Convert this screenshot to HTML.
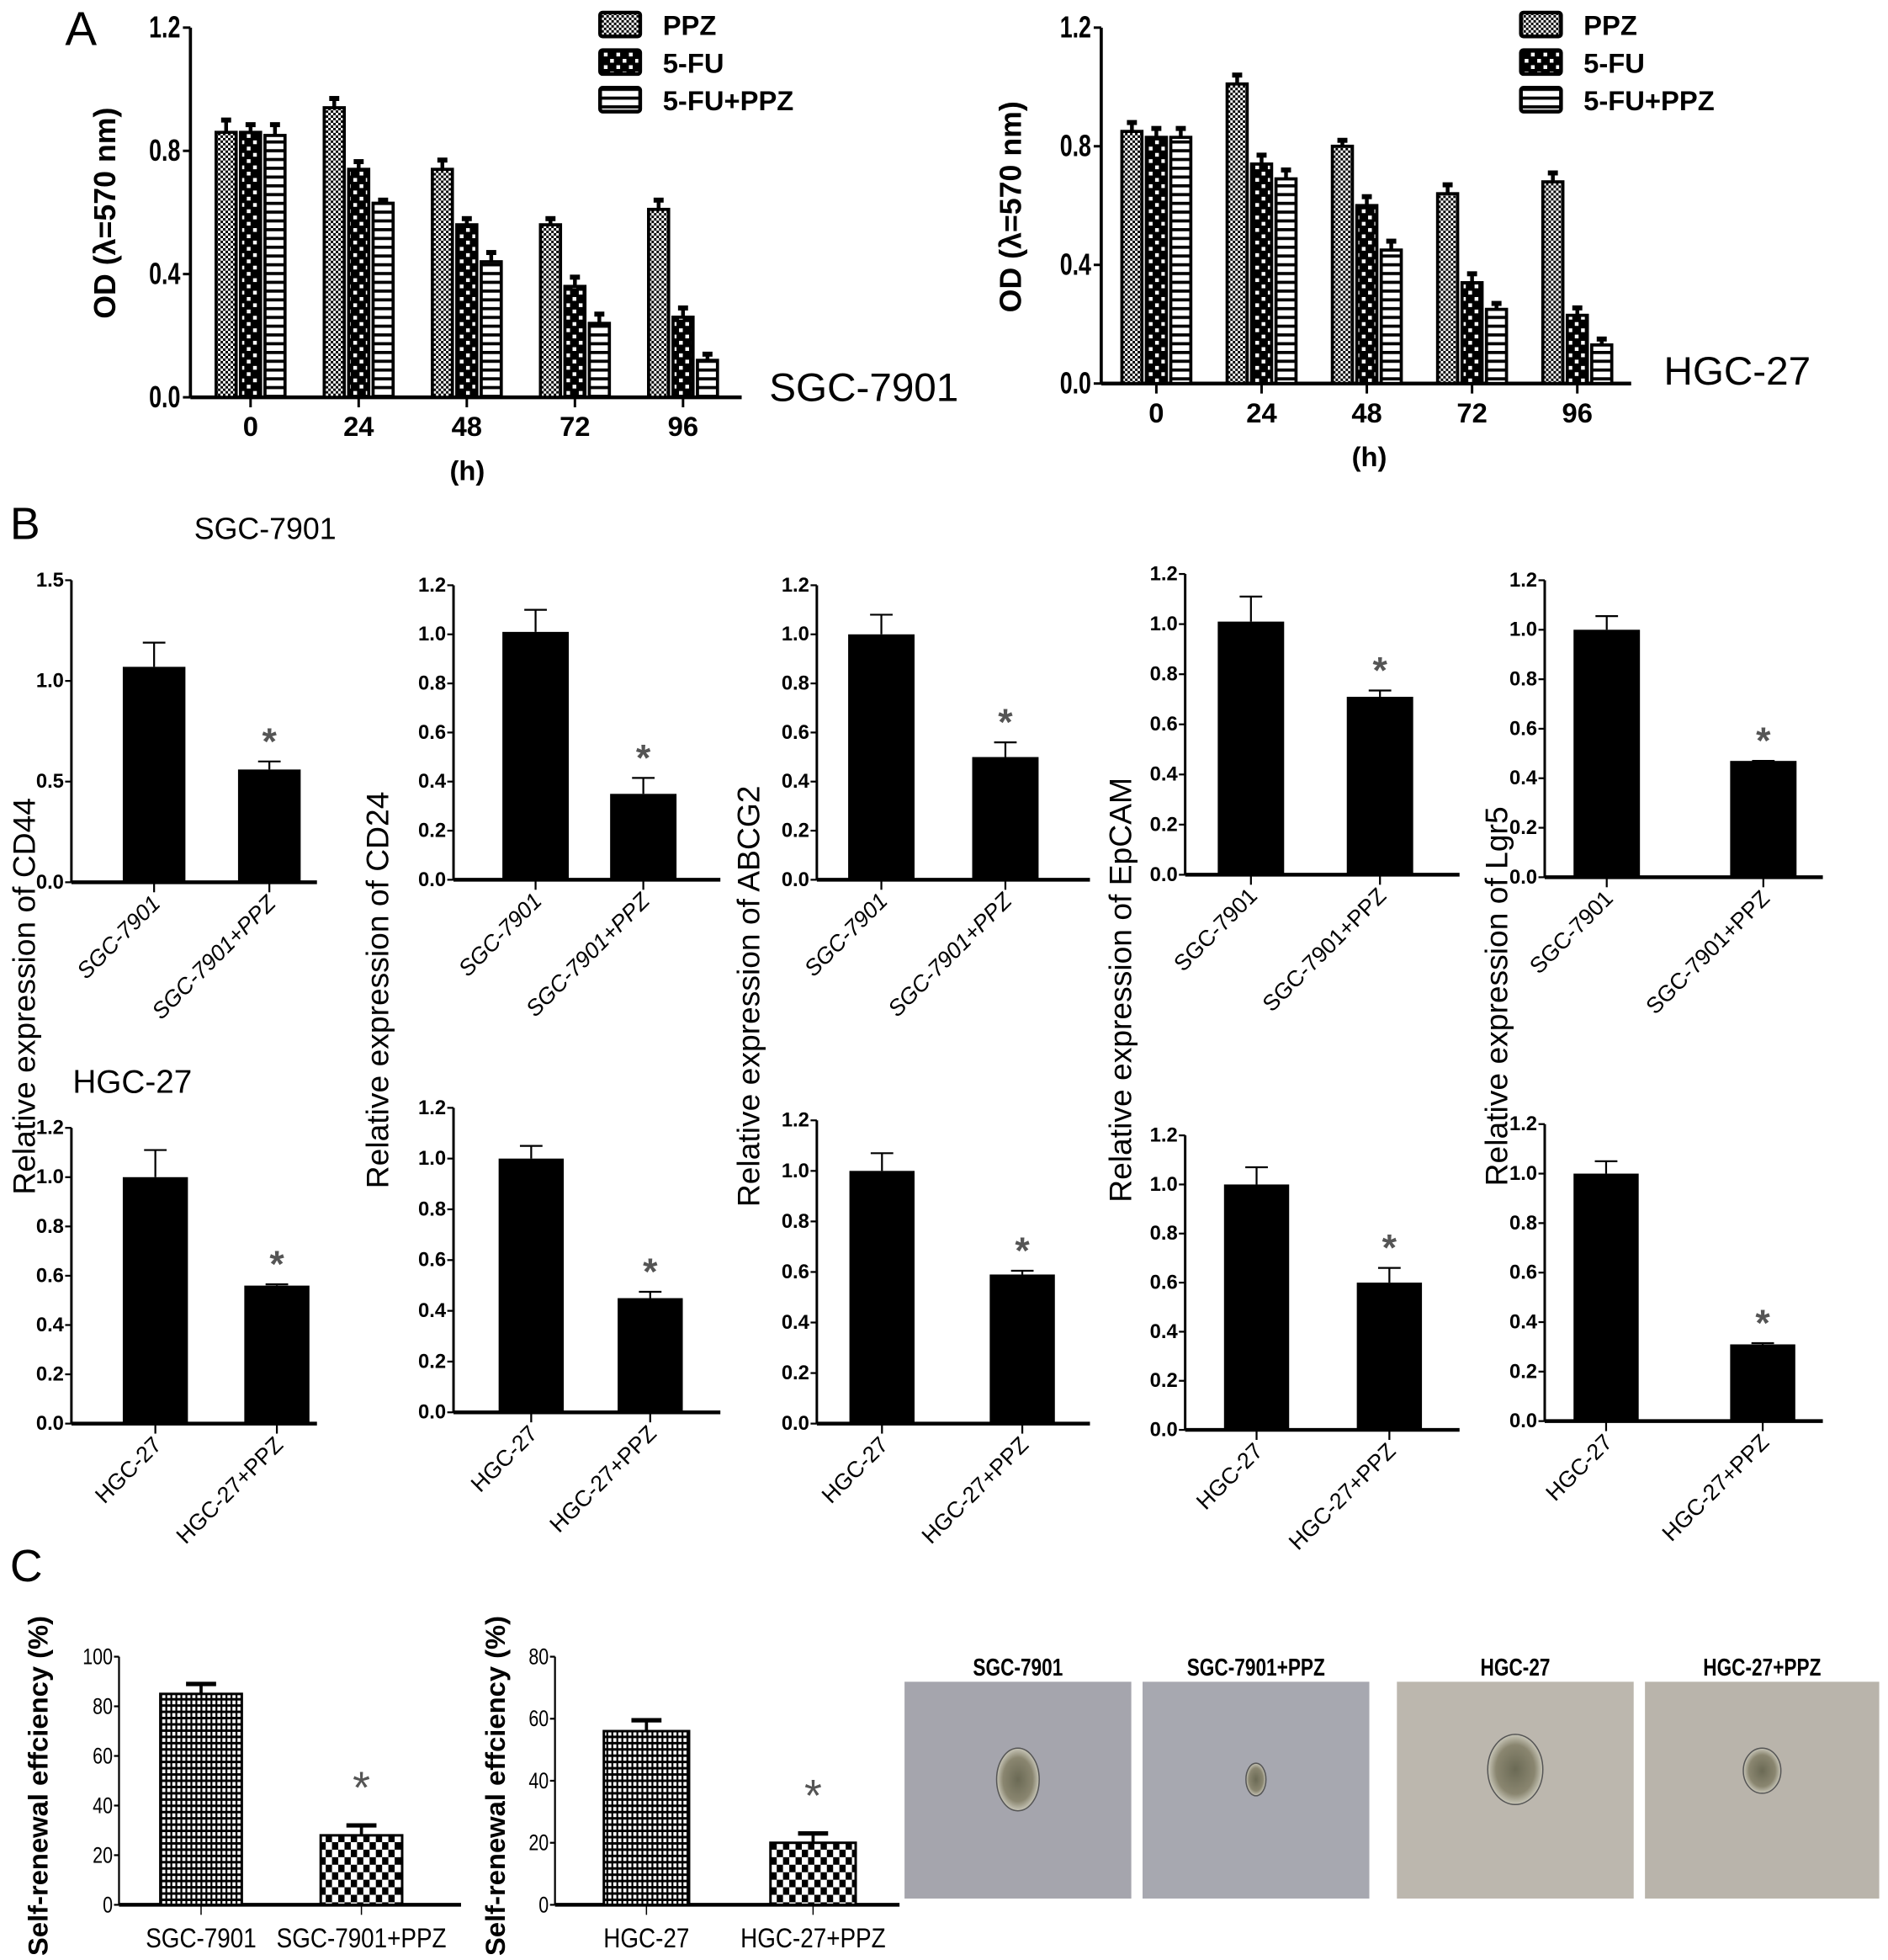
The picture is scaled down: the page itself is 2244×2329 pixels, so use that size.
<!DOCTYPE html>
<html><head><meta charset="utf-8"><style>
html,body{margin:0;padding:0;background:#fff;}
svg{display:block;}
text{font-family:"Liberation Sans",sans-serif;}
</style></head><body>
<svg id="fig" width="2244" height="2329" viewBox="0 0 1507 1564" xmlns="http://www.w3.org/2000/svg">
<defs>
<pattern id="pFine" width="4" height="4" patternUnits="userSpaceOnUse"><rect width="4" height="4" fill="#fff"/><rect width="2" height="2" fill="#000"/><rect x="2" y="2" width="2" height="2" fill="#000"/></pattern>
<pattern id="pCheck" width="10" height="10" patternUnits="userSpaceOnUse"><rect width="10" height="10" fill="#000"/><rect x="2" y="2" width="3" height="3" fill="#fff"/><rect x="7" y="7" width="3" height="3" fill="#fff"/></pattern>
<pattern id="pStripe" width="6" height="7" patternUnits="userSpaceOnUse"><rect width="6" height="7" fill="#fff"/><rect width="6" height="2.5" fill="#000"/></pattern>
<pattern id="pHatch" width="4" height="5" patternUnits="userSpaceOnUse"><rect width="4" height="5" fill="#fff"/><rect width="4" height="2" fill="#000"/><rect width="1.5" height="5" fill="#000"/></pattern>
<pattern id="pCheck2" width="10" height="12" patternUnits="userSpaceOnUse"><rect width="10" height="12" fill="#fff"/><rect width="5" height="6" fill="#000"/><rect x="5" y="6" width="5" height="6" fill="#000"/></pattern>
<radialGradient id="sph"><stop offset="0" stop-color="#6b6a55"/><stop offset="0.7" stop-color="#8a8670"/><stop offset="1" stop-color="#c8c6b8"/></radialGradient>
</defs>
<g id="root"></g>
</svg>
<script>
// ---- Panel A data ----
const aCats = ['0','24','48','72','96'];
const aSeries = ['PPZ','5-FU','5-FU+PPZ'];
const aSgcPPZ = [0.86,0.94,0.74,0.56,0.61];
const aSgcFU = [0.86,0.74,0.56,0.36,0.26];
const aSgcCombo = [0.85,0.63,0.44,0.24,0.12];
const aSgcErr = [[0.04,0.03,0.03,0.02,0.03],[0.025,0.025,0.02,0.03,0.03],[0.035,0.01,0.03,0.03,0.02]];
const aHgcPPZ = [0.85,1.01,0.80,0.64,0.68];
const aHgcFU = [0.83,0.74,0.60,0.34,0.23];
const aHgcCombo = [0.83,0.69,0.45,0.25,0.13];
const aHgcErr = [[0.03,0.03,0.02,0.03,0.03],[0.03,0.03,0.03,0.03,0.025],[0.03,0.03,0.03,0.02,0.02]];
const aTicks = [0.0,0.4,0.8,1.2];
// ---- Panel B data ----
const bGenes = ['CD44','CD24','ABCG2','EpCAM','Lgr5'];
const bSgcCats = ['SGC-7901','SGC-7901+PPZ'];
const bHgcCats = ['HGC-27','HGC-27+PPZ'];
const bSgcVals = [[1.07,0.56],[1.01,0.35],[1.0,0.50],[1.01,0.71],[1.0,0.47]];
const bSgcErr = [[0.12,0.04],[0.09,0.065],[0.08,0.06],[0.1,0.025],[0.055,0.0]];
const bHgcVals = [[1.0,0.56],[1.0,0.45],[1.0,0.59],[1.0,0.60],[1.0,0.31]];
const bHgcErr = [[0.11,0.005],[0.05,0.025],[0.07,0.015],[0.07,0.06],[0.05,0.005]];
const bSgcMax = [1.5,1.2,1.2,1.2,1.2];
const bTicks12 = [0,0.2,0.4,0.6,0.8,1.0,1.2];
const bTicks15 = [0,0.5,1.0,1.5];
// ---- Panel C data ----
const cSgcCats = ['SGC-7901','SGC-7901+PPZ'];
const cSgcVals = [85,28];
const cSgcErr = [4,4];
const cHgcCats = ['HGC-27','HGC-27+PPZ'];
const cHgcVals = [56,20];
const cHgcErr = [3.5,3];
const cTicksSgc = [0,20,40,60,80,100];
const cTicksHgc = [0,20,40,60,80];

const NS='http://www.w3.org/2000/svg';
const root=document.getElementById('root');
function el(tag,attrs,parent,txt){const e=document.createElementNS(NS,tag);for(const k in attrs)e.setAttribute(k,attrs[k]);if(txt!==undefined)e.textContent=txt;(parent||root).appendChild(e);return e;}
function fmt(v,d){return v.toFixed(d);}

function chartA(cfg){
  const g=el('g',{});
  
  
  const y=v=>cfg.y0-(v/1.2)*(cfg.y0-cfg.yTop);
  el('line',{x1:cfg.ax,y1:cfg.yTop,x2:cfg.ax,y2:cfg.y0,stroke:'#000','stroke-width':2.5},g);
  el('line',{x1:cfg.ax,y1:cfg.y0,x2:cfg.axEnd,y2:cfg.y0,stroke:'#000','stroke-width':3},g);
  aTicks.forEach(t=>{
    el('line',{x1:cfg.ax-6,y1:y(t),x2:cfg.ax,y2:y(t),stroke:'#000','stroke-width':2},g);
    const tx=el('text',{x:cfg.ax-8,y:y(t)+8,'text-anchor':'end','font-size':24,'font-weight':'bold',transform:`translate(${cfg.ax-8},0) scale(0.75,1) translate(${-(cfg.ax-8)},0)`},g,fmt(t,1));
    
    
  });
  const pats=['url(#pFine)','url(#pCheck)','url(#pStripe)'];
  const series=[cfg.s1,cfg.s2,cfg.s3];
  const bw=16, gap=3.5;
  aCats.forEach((c,i)=>{
    const cx=cfg.g0+i*cfg.gs;
    el('line',{x1:cx,y1:cfg.y0,x2:cx,y2:cfg.y0+8,stroke:'#000','stroke-width':2},g);
    const tl=el('text',{x:cx,y:cfg.y0+31,'text-anchor':'middle','font-size':22,'font-weight':'bold'},g,c);
    
    
    series.forEach((s,k)=>{
      const bx=cx+(k-1)*(bw+gap)-bw/2;
      const v=s[i], e=cfg.err[k][i];
      el('line',{x1:bx+bw/2,y1:y(v),x2:bx+bw/2,y2:y(v+e),stroke:'#000','stroke-width':3},g);
      el('line',{x1:bx+bw/2-4,y1:y(v+e),x2:bx+bw/2+4,y2:y(v+e),stroke:'#000','stroke-width':4},g);
      const r=el('rect',{x:bx,y:y(v),width:bw,height:cfg.y0-y(v),fill:pats[k],stroke:'#000','stroke-width':2.5},g);
      
      
    });
  });
  const xl=el('text',{x:cfg.hx,y:cfg.y0+66,'text-anchor':'middle','font-size':22,'font-weight':'bold'},g,'(h)');
  
  
  const yl=el('text',{x:0,y:0,'text-anchor':'middle','font-size':24,'font-weight':'bold',transform:`translate(${cfg.ylx},${cfg.yly}) rotate(-90)`},g,'OD (λ=570 nm)');
  
  
  const cl=el('text',{x:cfg.labX,y:cfg.labY,'font-size':32},g,cfg.label);
  
  
  aSeries.forEach((s,k)=>{
    const ly=cfg.legY+k*30;
    const lr=el('rect',{x:cfg.legX,y:ly-10,width:32,height:19,fill:pats[k],stroke:'#000','stroke-width':3,rx:2},g);
    
    
    const lt=el('text',{x:cfg.legX+50,y:ly+8,'font-size':22,'font-weight':'bold'},g,s);
    
    
  });
}
chartA({name:'chart-a-sgc7901',ax:152,axEnd:592,yTop:22,y0:317,g0:200,gs:86.3,s1:aSgcPPZ,s2:aSgcFU,s3:aSgcCombo,err:aSgcErr,hx:373,ylx:92,yly:170,label:'SGC-7901',labX:614,labY:320,legX:479,legY:20});
chartA({name:'chart-a-hgc27',ax:879,axEnd:1302,yTop:22,y0:306,g0:923,gs:84,s1:aHgcPPZ,s2:aHgcFU,s3:aHgcCombo,err:aHgcErr,hx:1093,ylx:815,yly:165,label:'HGC-27',labX:1328,labY:307,legX:1214,legY:20});

function chartB(cfg){
  const g=el('g',{});
  
  
  const y=v=>cfg.y0-(v/cfg.max)*(cfg.y0-cfg.yTop);
  el('line',{x1:cfg.ax,y1:cfg.yTop,x2:cfg.ax,y2:cfg.y0,stroke:'#000','stroke-width':2},g);
  el('line',{x1:cfg.ax,y1:cfg.y0,x2:cfg.axEnd,y2:cfg.y0,stroke:'#000','stroke-width':3},g);
  cfg.ticks.forEach(t=>{
    el('line',{x1:cfg.ax-5,y1:y(t),x2:cfg.ax,y2:y(t),stroke:'#000','stroke-width':1.5},g);
    const tl=el('text',{x:cfg.ax-6,y:y(t)+5,'text-anchor':'end','font-size':16,'font-weight':'bold'},g,fmt(t,1));
    
    
  });
  cfg.vals.forEach((v,i)=>{
    const bx=cfg.bx[i], bw=cfg.bw, e=cfg.err[i], cx=bx+bw/2;
    el('line',{x1:cx,y1:y(v),x2:cx,y2:y(v+e),stroke:'#000','stroke-width':1.5},g);
    el('line',{x1:cx-9,y1:y(v+e),x2:cx+9,y2:y(v+e),stroke:'#000','stroke-width':1.5},g);
    const r=el('rect',{x:bx,y:y(v),width:bw,height:cfg.y0-y(v),fill:'#000'},g);
    
    
    el('line',{x1:cx,y1:cfg.y0,x2:cx,y2:cfg.y0+8,stroke:'#000','stroke-width':1.5},g);
    const tl=el('text',{x:0,y:0,'text-anchor':'end','font-size':18,'font-style':cfg.italic?'italic':'normal',transform:`translate(${cx+6},${cfg.y0+18}) rotate(-45)`},g,cfg.cats[i]);
    
    
    if(i===1){
      const st=el('text',{x:cx,y:y(v+e)-6,'text-anchor':'middle','font-size':30,'font-weight':'bold',fill:'#555'},g,'*');
      
      
    }
  });
}
const colAx=[57,362,652,946,1233];
const colEnd=[253,575,870,1165,1455];
const r1Top=[463,467,467,458,463], r1Y0=[704,702,702,698,700];
const r2Top=[900,884,894,906,897], r2Y0=[1136,1127,1136,1141,1134];
const r1Bx=[[98,190],[401,487],[677,776],[972,1075],[1256,1381]];
const r2Bx=[[98,195],[398,493],[678,790],[977,1083],[1256,1381]];
const ylabX=[28,310,606,903,1203];
bGenes.forEach((gname,i)=>{
  chartB({name:'chart-b-sgc-'+gname,ax:colAx[i],axEnd:colEnd[i],yTop:r1Top[i],y0:r1Y0[i],max:bSgcMax[i],ticks:bSgcMax[i]===1.5?bTicks15:bTicks12,vals:bSgcVals[i],err:bSgcErr[i],bx:r1Bx[i],bw:i===0?50:53,cats:bSgcCats,italic:i<3});
  chartB({name:'chart-b-hgc-'+gname,ax:colAx[i],axEnd:colEnd[i],yTop:r2Top[i],y0:r2Y0[i],max:1.2,ticks:bTicks12,vals:bHgcVals[i],err:bHgcErr[i],bx:r2Bx[i],bw:52,cats:bHgcCats,italic:false});
  const yl=el('text',{x:0,y:0,'text-anchor':'middle','font-size':25,transform:`translate(${ylabX[i]},${i%2?790:795}) rotate(-90)`},root,'Relative expression of '+gname);
  
  
});

function chartC(cfg){
  const g=el('g',{});
  
  
  const y=v=>cfg.y0-(v/cfg.max)*(cfg.y0-cfg.yTop);
  el('line',{x1:cfg.ax,y1:cfg.yTop,x2:cfg.ax,y2:cfg.y0,stroke:'#000','stroke-width':1.5},g);
  el('line',{x1:cfg.ax,y1:cfg.y0,x2:cfg.axEnd,y2:cfg.y0,stroke:'#000','stroke-width':3},g);
  cfg.ticks.forEach(t=>{
    el('line',{x1:cfg.ax-4,y1:y(t),x2:cfg.ax,y2:y(t),stroke:'#000','stroke-width':1.5},g);
    const tl=el('text',{x:cfg.ax-5,y:y(t)+6,'text-anchor':'end','font-size':18,transform:`translate(${cfg.ax-5},0) scale(0.8,1) translate(${-(cfg.ax-5)},0)`},g,String(t));
    
    
  });
  const pats=['url(#pHatch)','url(#pCheck2)'];
  cfg.vals.forEach((v,i)=>{
    const bx=cfg.bx[i], bw=cfg.bw, e=cfg.err[i], cx=bx+bw/2;
    el('line',{x1:cx,y1:y(v),x2:cx,y2:y(v+e),stroke:'#000','stroke-width':2.5},g);
    el('line',{x1:cx-12,y1:y(v+e),x2:cx+12,y2:y(v+e),stroke:'#000','stroke-width':3.5},g);
    const r=el('rect',{x:bx,y:y(v),width:bw,height:cfg.y0-y(v),fill:pats[i],stroke:'#000','stroke-width':2},g);
    
    
    el('line',{x1:cx,y1:cfg.y0,x2:cx,y2:cfg.y0+8,stroke:'#000','stroke-width':1},g);
    const tl=el('text',{x:cx,y:cfg.y0+34,'text-anchor':'middle','font-size':22,transform:`translate(${cx},0) scale(0.85,1) translate(${-cx},0)`},g,cfg.cats[i]);
    
    
    if(i===1){
      const st=el('text',{x:cx,y:y(v+e)-18,'text-anchor':'middle','font-size':36,fill:'#555'},g,'*');
      
      
    }
  });
  const yl=el('text',{x:0,y:0,'text-anchor':'middle','font-size':22,'font-weight':'bold',transform:`translate(${cfg.ylx},1425) rotate(-90)`},g,'Self-renewal effciency (%)');
  
  
}
chartC({name:'chart-c-sgc7901',ax:95,axEnd:368,yTop:1322,y0:1520,max:100,ticks:cTicksSgc,vals:cSgcVals,err:cSgcErr,bx:[128,256],bw:65,cats:cSgcCats,ylx:38});
chartC({name:'chart-c-hgc27',ax:443,axEnd:718,yTop:1322,y0:1520,max:80,ticks:cTicksHgc,vals:cHgcVals,err:cHgcErr,bx:[482,615],bw:68,cats:cHgcCats,ylx:403});

const imgX=[722,912,1115,1313], imgW=[181,181,189,187];
const imgTitles=['SGC-7901','SGC-7901+PPZ','HGC-27','HGC-27+PPZ'];
const imgCol=['#a5a5ad','#a7a8b0','#bcb7ae','#b9b4ab'];
const sphR=[[17,25],[8,13],[22,28],[15,18]];
const sphY=[1420,1420,1412,1413];
imgX.forEach((x,i)=>{
  const r=el('rect',{x:x,y:1342,width:imgW[i],height:173,fill:imgCol[i]});
  
  
  el('ellipse',{cx:x+imgW[i]/2,cy:sphY[i],rx:sphR[i][0],ry:sphR[i][1],fill:'url(#sph)',stroke:'#555','stroke-width':1});
  const t=el('text',{x:x+imgW[i]/2,y:1337,'text-anchor':'middle','font-size':19,'font-weight':'bold',transform:`translate(${x+imgW[i]/2},0) scale(0.8,1) translate(${-(x+imgW[i]/2)},0)`},root,imgTitles[i]);
  
  
});

[['A',52,36,38],['B',8,430,36],['C',8,1262,36]].forEach(p=>{
  const t=el('text',{x:p[1],y:p[2],'font-size':p[3]},root,p[0]);
  
  
});
const s1=el('text',{x:155,y:430,'font-size':24},root,'SGC-7901');


const s2=el('text',{x:58,y:872,'font-size':26},root,'HGC-27');


</script>
</body></html>
